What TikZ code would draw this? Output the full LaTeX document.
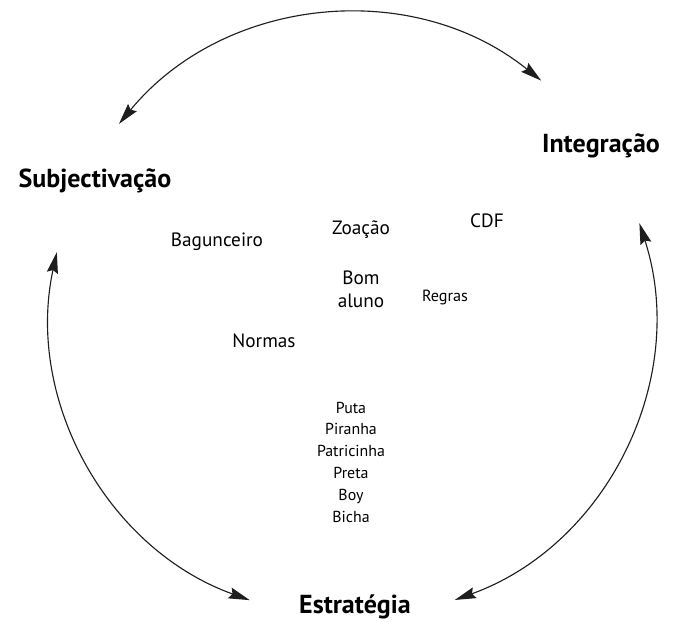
\documentclass[tikz,border=0pt]{standalone}
\usepackage{fontspec}
\setmainfont{PT Sans}
\usepackage{tikz}
\usetikzlibrary{arrows.meta}
\definecolor{cyclecol}{RGB}{30,30,30}
\tikzset{
  % bold pole of the cycle
  pole/.style={font=\fontsize{18.5}{22}\selectfont\bfseries, inner sep=1pt},
  % plain word inside the cycle
  word/.style={font=\fontsize{13.7}{16.5}\selectfont, inner sep=1pt, align=center},
  % smaller word
  sword/.style={font=\fontsize{11.5}{14}\selectfont, inner sep=1pt, align=center},
  % double-headed arc of the cycle
  cyclearc/.style={{Stealth[length=15pt,width=8pt,inset=2pt]}-{Stealth[length=15pt,width=8pt,inset=2pt]},
                   line width=0.8pt, draw=cyclecol},
}

\begin{document}
\begin{tikzpicture}[x=0.025cm, y=0.025cm]
  \useasboundingbox (-352,-306) rectangle (323,316);
  \coordinate (c) at (0,0);

  % the three poles
  \node[pole] (integ) at (249,170) {Integração};
  \node[pole] (subj) at (-257,135) {Subjectivação};
  \node[pole, inner sep=0pt] (estr) at (3,-291) {Estratégia};

  % words in the middle
  \node[word] (bag) at (-135,74) {Bagunceiro};
  \node[word] (zoa) at (9,86) {Zoação};
  \node[word] (cdf) at (135,95) {CDF};
  \node[word] (bom) at (9,27) {Bom\\aluno};
  \node[sword] (regras) at (93,19) {Regras};
  \node[word] (normas) at (-88,-25) {Normas};
  \node[sword, font=\fontsize{11.3}{15.5}\selectfont] (nomes) at (-1,-146)
    {Puta\\Piranha\\Patricinha\\Preta\\Boy\\Bicha};

  % ends of the arcs on the circle
  \coordinate (t1) at (140.5:302);
  \coordinate (l1) at (167.8:302);
  \coordinate (r1) at (17.9:302);

  \draw[cyclearc] (t1) arc[start angle=140.5, end angle=51.2, radius=302];
  \draw[cyclearc] (l1) arc[start angle=167.8, end angle=250.2, radius=302];
  \draw[cyclearc] (r1) arc[start angle=17.9, end angle=-70.1, radius=302];
\end{tikzpicture}
\end{document}
